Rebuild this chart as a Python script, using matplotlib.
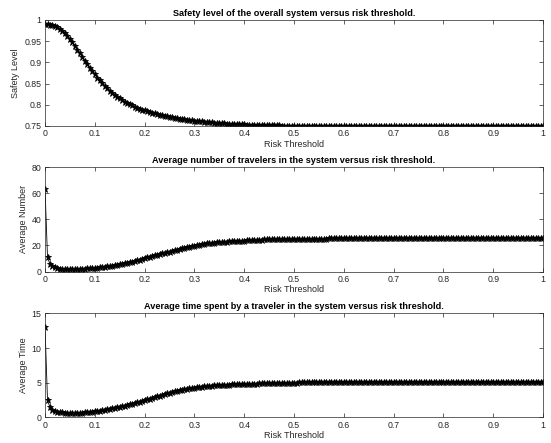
import numpy as np
import matplotlib
matplotlib.use('Agg')
import matplotlib.pyplot as plt

# risk threshold grid, 0:0.005:1
risk = np.arange(201) * 0.005

safety = [
    0.9900, 0.9899, 0.9893, 0.9880, 0.9859, 0.9829, 0.9790, 0.9742, 0.9685, 0.9619,
    0.9547, 0.9469, 0.9387, 0.9301, 0.9214, 0.9127, 0.9040, 0.8955, 0.8872, 0.8792,
    0.8715, 0.8642, 0.8573, 0.8507, 0.8445, 0.8388, 0.8334, 0.8283, 0.8236, 0.8192,
    0.8151, 0.8113, 0.8077, 0.8044, 0.8013, 0.7985, 0.7958, 0.7933, 0.7910, 0.7888,
    0.7868, 0.7849, 0.7831, 0.7814, 0.7798, 0.7783, 0.7768, 0.7754, 0.7741, 0.7729,
    0.7717, 0.7706, 0.7695, 0.7685, 0.7675, 0.7666, 0.7657, 0.7649, 0.7641, 0.7633,
    0.7626, 0.7619, 0.7612, 0.7606, 0.7600, 0.7594, 0.7589, 0.7584, 0.7579, 0.7574,
    0.7570, 0.7566, 0.7562, 0.7558, 0.7554, 0.7551, 0.7548, 0.7545, 0.7542, 0.7539,
    0.7536, 0.7534, 0.7531, 0.7529, 0.7527, 0.7525, 0.7523, 0.7521, 0.7520, 0.7518,
    0.7517, 0.7515, 0.7514, 0.7513, 0.7512, 0.7511, 0.7510, 0.7509, 0.7508, 0.7507,
    0.7506, 0.7506, 0.7506, 0.7506, 0.7506, 0.7506, 0.7506, 0.7506, 0.7506, 0.7506,
    0.7506, 0.7506, 0.7506, 0.7506, 0.7506, 0.7506, 0.7506, 0.7506, 0.7506, 0.7506,
    0.7505, 0.7505, 0.7505, 0.7505, 0.7505, 0.7505, 0.7505, 0.7505, 0.7505, 0.7505,
    0.7505, 0.7505, 0.7505, 0.7505, 0.7505, 0.7505, 0.7505, 0.7505, 0.7505, 0.7505,
    0.7504, 0.7504, 0.7504, 0.7504, 0.7504, 0.7504, 0.7504, 0.7504, 0.7504, 0.7504,
    0.7504, 0.7504, 0.7504, 0.7504, 0.7504, 0.7504, 0.7504, 0.7504, 0.7504, 0.7504,
    0.7503, 0.7503, 0.7503, 0.7503, 0.7503, 0.7503, 0.7503, 0.7503, 0.7503, 0.7503,
    0.7503, 0.7503, 0.7503, 0.7503, 0.7503, 0.7503, 0.7503, 0.7503, 0.7503, 0.7503,
    0.7503, 0.7503, 0.7503, 0.7503, 0.7503, 0.7503, 0.7503, 0.7503, 0.7503, 0.7503,
    0.7503, 0.7503, 0.7503, 0.7503, 0.7503, 0.7503, 0.7503, 0.7503, 0.7503, 0.7503,
    0.7503,
]

avg_number = [
    63.5, 10.8, 5.6, 3.9, 3.1, 2.6, 2.3, 2.1, 2.0, 1.95,
    1.92, 1.92, 1.95, 2.0, 2.06, 2.14, 2.24, 2.36, 2.5, 2.65,
    2.82, 3.0, 3.2, 3.42, 3.65, 3.9, 4.17, 4.45, 4.75, 5.07,
    5.4, 5.78, 6.19, 6.63, 7.1, 7.59, 8.1, 8.63, 9.17, 9.72,
    10.28, 10.8, 11.32, 11.84, 12.35, 12.86, 13.36, 13.86, 14.35, 14.83,
    15.3, 15.8, 16.29, 16.77, 17.24, 17.71, 18.17, 18.62, 19.06, 19.49,
    19.91, 20.27, 20.6, 20.91, 21.2, 21.47, 21.72, 21.95, 22.16, 22.35,
    22.52, 22.68, 22.83, 22.97, 23.1, 23.22, 23.33, 23.43, 23.52, 23.61,
    23.69, 23.83, 23.96, 24.08, 24.19, 24.29, 24.38, 24.46, 24.54, 24.61,
    24.67, 24.73, 24.78, 24.83, 24.87, 24.91, 24.95, 24.98, 25.01, 25.04,
    25.07, 25.09, 25.11, 25.13, 25.15, 25.17, 25.19, 25.2, 25.22, 25.23,
    25.24, 25.25, 25.26, 25.27, 25.28, 25.29, 25.3, 25.3, 25.31, 25.31,
    25.32, 25.32, 25.33, 25.33, 25.33, 25.34, 25.34, 25.34, 25.35, 25.35,
    25.35, 25.35, 25.36, 25.36, 25.36, 25.36, 25.37, 25.37, 25.37, 25.37,
    25.37, 25.38, 25.38, 25.38, 25.38, 25.38, 25.38, 25.39, 25.39, 25.39,
    25.39, 25.39, 25.39, 25.39, 25.39, 25.39, 25.39, 25.39, 25.39, 25.39,
    25.39, 25.39, 25.4, 25.4, 25.4, 25.4, 25.4, 25.4, 25.4, 25.4,
    25.4, 25.4, 25.4, 25.4, 25.4, 25.4, 25.4, 25.4, 25.4, 25.4,
    25.4, 25.4, 25.4, 25.4, 25.4, 25.4, 25.4, 25.4, 25.4, 25.4,
    25.4, 25.4, 25.4, 25.4, 25.4, 25.4, 25.4, 25.4, 25.4, 25.4,
    25.4,
]

avg_time = [
    13.0, 2.45, 1.45, 1.1, 0.93, 0.83, 0.76, 0.72, 0.7, 0.68,
    0.67, 0.67, 0.67, 0.68, 0.69, 0.71, 0.73, 0.76, 0.79, 0.83,
    0.87, 0.92, 0.975, 1.035, 1.1, 1.17, 1.24, 1.31, 1.39, 1.46,
    1.54, 1.625, 1.71, 1.8, 1.9, 1.99, 2.09, 2.19, 2.29, 2.4,
    2.5, 2.61, 2.72, 2.83, 2.94, 3.04, 3.15, 3.26, 3.36, 3.47,
    3.57, 3.67, 3.765, 3.855, 3.94, 4.02, 4.09, 4.155, 4.215, 4.27,
    4.32, 4.37, 4.41, 4.455, 4.49, 4.53, 4.56, 4.59, 4.62, 4.645,
    4.67, 4.69, 4.71, 4.73, 4.75, 4.765, 4.78, 4.795, 4.81, 4.825,
    4.84, 4.855, 4.87, 4.88, 4.89, 4.9, 4.915, 4.925, 4.935, 4.945,
    4.955, 4.965, 4.975, 4.985, 4.99, 5.0, 5.01, 5.015, 5.02, 5.03,
    5.035, 5.04, 5.045, 5.05, 5.055, 5.06, 5.065, 5.07, 5.07, 5.075,
    5.075, 5.08, 5.08, 5.085, 5.085, 5.09, 5.09, 5.09, 5.095, 5.095,
    5.095, 5.1, 5.1, 5.1, 5.1, 5.1, 5.1, 5.1, 5.1, 5.1,
    5.105, 5.105, 5.105, 5.105, 5.105, 5.105, 5.105, 5.105, 5.105, 5.105,
    5.105, 5.105, 5.105, 5.105, 5.105, 5.105, 5.105, 5.105, 5.105, 5.105,
    5.11, 5.11, 5.11, 5.11, 5.11, 5.11, 5.11, 5.11, 5.11, 5.11,
    5.11, 5.11, 5.11, 5.11, 5.11, 5.11, 5.11, 5.11, 5.11, 5.11,
    5.11, 5.11, 5.11, 5.11, 5.11, 5.11, 5.11, 5.11, 5.11, 5.11,
    5.11, 5.11, 5.11, 5.11, 5.11, 5.11, 5.11, 5.11, 5.11, 5.11,
    5.11, 5.11, 5.11, 5.11, 5.11, 5.11, 5.11, 5.11, 5.11, 5.11,
    5.11,
]

titles = ['Safety level of the overall system versus risk threshold.',
          'Average number of travelers in the system versus risk threshold.',
          'Average time spent by a traveler in the system versus risk threshold.']
ylabels = ['Safety Level', 'Average Number', 'Average Time']
ylims = [(0.75, 1), (0, 80), (0, 15)]
yticks = [[0.75, 0.8, 0.85, 0.9, 0.95, 1], [0, 20, 40, 60, 80], [0, 5, 10, 15]]
ytick_labels = [['0.75', '0.8', '0.85', '0.9', '0.95', '1'],
                ['0', '20', '40', '60', '80'],
                ['0', '5', '10', '15']]
xticks = [0, 0.1, 0.2, 0.3, 0.4, 0.5, 0.6, 0.7, 0.8, 0.9, 1]
xtick_labels = ['0', '0.1', '0.2', '0.3', '0.4', '0.5', '0.6', '0.7', '0.8', '0.9', '1']

plt.rcParams['font.family'] = ['Liberation Sans', 'DejaVu Sans']
grey = (0.15, 0.15, 0.15)

fig = plt.figure(figsize=(5.51, 4.43), dpi=100)
boxes = [[0.0817, 0.7156, 0.904, 0.2393],
         [0.0817, 0.3871, 0.904, 0.2359],
         [0.0817, 0.0576, 0.904, 0.2348]]
series = [safety, avg_number, avg_time]

for i in range(3):
    ax = fig.add_axes(boxes[i])
    ax.plot(risk, series[i], c='k', lw=0.6, ls='-', marker='*', ms=4.6, mew=0.6)
    ax.set_xlim(0, 1)
    ax.set_ylim(*ylims[i])
    ax.set_xticks(xticks)
    ax.set_xticklabels(xtick_labels)
    ax.set_yticks(yticks[i])
    ax.set_yticklabels(ytick_labels[i])
    ax.tick_params(direction='in', length=3, width=0.5, top=True, right=True,
                   labelsize=6.3, colors=grey, pad=2.5)
    for s in ax.spines.values():
        s.set_linewidth(0.5)
        s.set_color(grey)
    ax.set_title(titles[i], fontsize=6.6, fontweight='bold', color='k', pad=3)
    ax.set_xlabel('Risk Threshold', fontsize=6.5, color=grey, labelpad=1)
    ax.set_ylabel(ylabels[i], fontsize=6.5, color=grey, labelpad=3)

fig.savefig('out.png', dpi=100)
